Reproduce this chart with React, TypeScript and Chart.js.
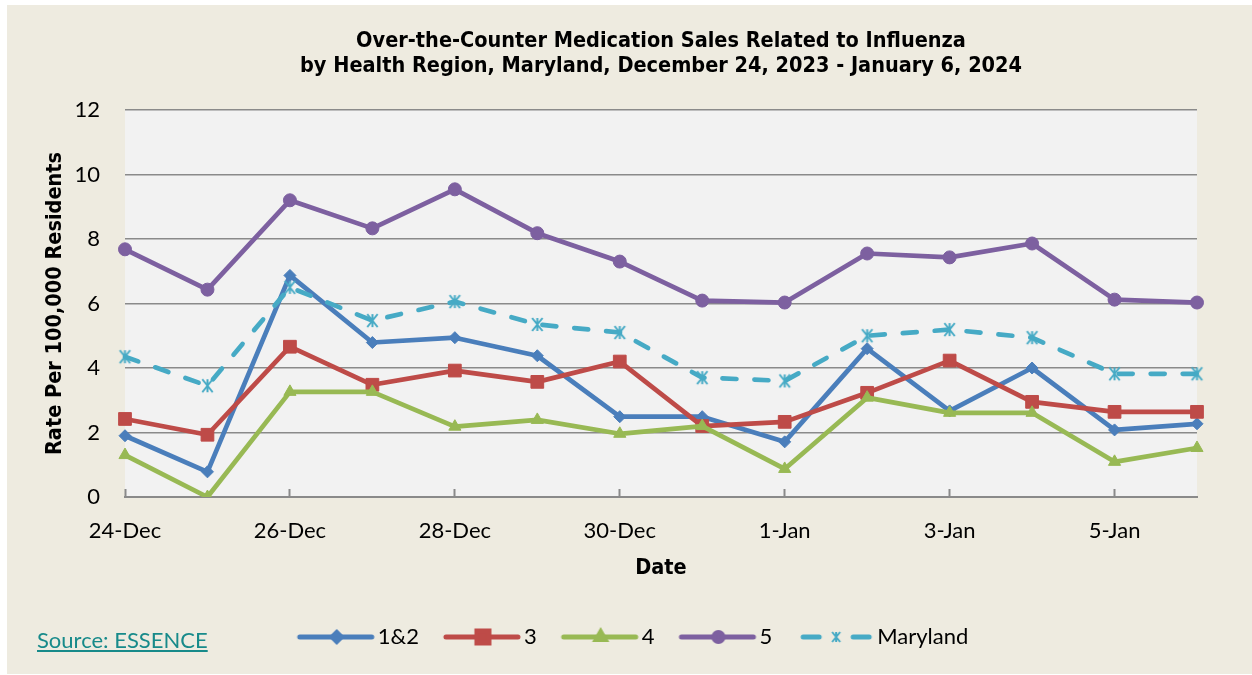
import React, { useEffect, useRef } from 'react';
import { Chart, registerables } from 'chart.js';
import { drawPoint } from 'chart.js/helpers';

Chart.register(...registerables);

// ---- Data ----
const dates = ['24-Dec', '25-Dec', '26-Dec', '27-Dec', '28-Dec', '29-Dec', '30-Dec', '31-Dec', '1-Jan', '2-Jan', '3-Jan', '4-Jan', '5-Jan', '6-Jan'];
const region12 = [1.9, 0.78, 6.87, 4.79, 4.94, 4.38, 2.49, 2.49, 1.71, 4.6, 2.67, 4.0, 2.08, 2.27];
const region3 = [2.42, 1.93, 4.66, 3.48, 3.92, 3.57, 4.2, 2.2, 2.33, 3.23, 4.23, 2.95, 2.64, 2.64];
const region4 = [1.3, 0.0, 3.26, 3.26, 2.18, 2.39, 1.96, 2.2, 0.87, 3.08, 2.61, 2.61, 1.09, 1.52];
const region5 = [7.68, 6.43, 9.2, 8.33, 9.54, 8.18, 7.3, 6.09, 6.03, 7.55, 7.43, 7.86, 6.12, 6.03];
const maryland = [4.35, 3.45, 6.5, 5.47, 6.06, 5.35, 5.1, 3.7, 3.6, 5.0, 5.19, 4.94, 3.82, 3.82];
const seriesLabels = ['1&2', '3', '4', '5', 'Maryland'];
const yTicks = [0, 2, 4, 6, 8, 10, 12];
const titleLines = [
  'Over-the-Counter Medication Sales Related to Influenza',
  'by Health Region, Maryland, December 24, 2023 - January 6, 2024',
];
const xTitle = 'Date';
const yTitle = 'Rate Per 100,000 Residents';
const sourceText = 'Source: ESSENCE';

// ---- Styles ----
const seriesData = [region12, region3, region4, region5, maryland];
const styles = [
  { color: '#4A7EBB', point: 'rectRot', radius: 6, legendRadius: 4.5, dash: [] as number[] },
  { color: '#BE4B48', point: 'rect', radius: 9, legendRadius: 8.5, dash: [] as number[] },
  { color: '#98B954', point: 'triangle', radius: 7, legendRadius: 5, dash: [] as number[] },
  { color: '#7D60A0', point: 'circle', radius: 6.5, legendRadius: 4.5, dash: [] as number[] },
  { color: '#46AAC5', point: 'asterisk', radius: 6.5, legendRadius: 5, dash: [14, 18] },
];
const GRID = '#8A8A8A';
const TICK_FONT = 'Lato, "Noto Sans", sans-serif';
const BOLD_FONT = '"DejaVu Sans Condensed", "DejaVu Sans", sans-serif';
const BOLD_SIZE = 21.5;

// Excel-like "star" marker: an x with a vertical bar through it
function makeAsterisk(color: string, half: number): HTMLCanvasElement {
  const s = Math.ceil(half * 2 + 4);
  const c = document.createElement('canvas');
  c.width = s;
  c.height = s;
  const ctx = c.getContext('2d')!;
  const m = s / 2;
  const w = half * 0.8;
  ctx.strokeStyle = color;
  ctx.lineWidth = 2;
  ctx.lineCap = 'butt';
  ctx.beginPath();
  ctx.moveTo(m - w, m - half);
  ctx.lineTo(m + w, m + half);
  ctx.moveTo(m + w, m - half);
  ctx.lineTo(m - w, m + half);
  ctx.moveTo(m, m - half);
  ctx.lineTo(m, m + half);
  ctx.stroke();
  return c;
}

function makeIcon(st: typeof styles[number]): HTMLCanvasElement {
  const c = document.createElement('canvas');
  c.width = 88;
  c.height = 22;
  const ctx = c.getContext('2d')!;
  const cy = 11;
  ctx.strokeStyle = st.color;
  ctx.fillStyle = st.color;
  ctx.lineWidth = 5;
  ctx.lineCap = 'round';
  ctx.beginPath();
  if (st.dash.length) {
    ctx.moveTo(14, cy);
    ctx.lineTo(30, cy);
    ctx.moveTo(64, cy);
    ctx.lineTo(80, cy);
  } else {
    ctx.moveTo(10, cy);
    ctx.lineTo(82, cy);
  }
  ctx.stroke();
  if (st.point === 'asterisk') {
    const a = makeAsterisk(st.color, st.legendRadius);
    ctx.drawImage(a, 47 - a.width / 2, cy - a.height / 2);
  } else {
    drawPoint(ctx, { pointStyle: st.point as any, radius: st.legendRadius, rotation: 0, borderWidth: 1 }, 47, cy);
  }
  return c;
}

export default function App() {
  const ref = useRef<HTMLCanvasElement>(null);

  useEffect(() => {
    const icons = styles.map(makeIcon);
    const chart = new Chart(ref.current!, {
      type: 'line',
      data: {
        labels: dates,
        datasets: seriesData.map((d, i) => {
          const st = styles[i];
          const ps = st.point === 'asterisk' ? makeAsterisk(st.color, st.radius) : st.point;
          return {
            label: seriesLabels[i],
            data: d,
            borderColor: st.color,
            backgroundColor: st.color,
            borderWidth: 4.7,
            borderDash: st.dash,
            borderCapStyle: st.dash.length ? 'round' : 'butt',
            borderJoinStyle: 'round',
            tension: 0,
            pointStyle: ps as any,
            pointRadius: st.radius,
            pointBorderWidth: 1,
            pointBackgroundColor: st.color,
            pointBorderColor: st.color,
            order: 10 - i,
            yAxisID: 'y',
          } as any;
        }),
      },
      options: {
        responsive: false,
        animation: false,
        layout: { padding: { left: 17, right: 0, top: 0, bottom: 17 } },
        plugins: {
          title: {
            display: true,
            fullSize: false,
            text: titleLines,
            color: '#000',
            font: { family: BOLD_FONT, size: BOLD_SIZE, weight: 'bold', lineHeight: 25 / BOLD_SIZE },
            padding: { top: 28.5, bottom: 31.5 },
          },
          legend: {
            position: 'bottom',
            labels: {
              usePointStyle: true,
              pointStyleWidth: 66,
              padding: 28,
              color: '#000',
              font: { family: TICK_FONT, size: 22 },
              generateLabels: (ch: any) =>
                ch.data.datasets.map((ds: any, i: number) => ({
                  text: ds.label,
                  pointStyle: icons[i],
                  fillStyle: styles[i].color,
                  strokeStyle: styles[i].color,
                  lineWidth: 0,
                  hidden: false,
                  datasetIndex: i,
                  fontColor: '#000',
                })),
            },
          },
          tooltip: { enabled: false },
        },
        scales: {
          x: {
            grid: { display: true, drawOnChartArea: false, drawTicks: true, tickLength: -8, tickColor: GRID, tickWidth: 2 },
            border: { display: true, color: GRID, width: 2 },
            ticks: {
              autoSkip: false,
              maxRotation: 0,
              padding: 29,
              color: '#000',
              font: { family: TICK_FONT, size: 22 },
              callback: (_v: any, i: number) => (i % 2 === 0 ? dates[i] : null),
            },
            title: {
              display: true,
              text: xTitle,
              color: '#000',
              font: { family: BOLD_FONT, size: BOLD_SIZE, weight: 'bold', lineHeight: 1.2 },
              padding: { top: 0, bottom: 17 },
            },
            afterFit: (s: any) => { s.height = 101; },
          },
          y: {
            min: yTicks[0],
            max: yTicks[yTicks.length - 1],
            ticks: { stepSize: 2, padding: 25, color: '#000', font: { family: TICK_FONT, size: 22 } },
            grid: { color: GRID, lineWidth: 1.5, drawTicks: false },
            border: { display: false },
            title: {
              display: true,
              text: yTitle,
              color: '#000',
              font: { family: BOLD_FONT, size: BOLD_SIZE, weight: 'bold', lineHeight: 1.2 },
              padding: { top: 26, bottom: 0 },
            },
            afterFit: (s: any) => { s.width = 108; },
          },
          yR: {
            position: 'right',
            display: true,
            grid: { display: false },
            ticks: { display: false },
            border: { display: false },
            afterFit: (s: any) => { s.width = 55; },
          },
        },
      },
      plugins: [
        {
          id: 'plotBg',
          beforeDraw: (ch: any) => {
            const { ctx, chartArea: a } = ch;
            ctx.save();
            ctx.fillStyle = '#F2F2F2';
            ctx.fillRect(a.left, a.top, a.right - a.left, a.bottom - a.top);
            ctx.restore();
          },
        },
      ],
    } as any);
    return () => chart.destroy();
  }, []);

  return (
    <div style={{ position: 'absolute', left: 0, top: 0, width: 1252, height: 675, background: '#fff', overflow: 'hidden' }}>
      <div style={{ position: 'absolute', left: 7, top: 5, width: 1245, height: 669, background: '#EEEBE0' }} />
      <canvas ref={ref} width={1252} height={675} style={{ position: 'absolute', left: 0, top: 0, width: 1252, height: 675 }} />
      <a
        href="#"
        style={{ position: 'absolute', left: 37, top: 626, fontFamily: TICK_FONT, fontSize: 22, color: '#178A8A', textDecoration: 'underline', lineHeight: '28px' }}
      >
        {sourceText}
      </a>
    </div>
  );
}
